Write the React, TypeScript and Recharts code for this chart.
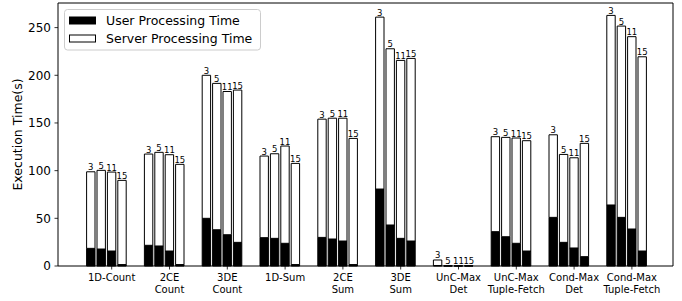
import { BarChart, Bar, XAxis, YAxis, Legend, LabelList } from 'recharts';

const categories = [
  '1D-Count', '2CE\nCount', '3DE\nCount', '1D-Sum', '2CE\nSum', '3DE\nSum',
  'UnC-Max\nDet', 'UnC-Max\nTuple-Fetch', 'Cond-Max\nDet', 'Cond-Max\nTuple-Fetch',
];
const configs = ['3', '5', '11', '15'];

// total execution time (user + server) per config
const total3 = [98.8, 117.4, 200, 115.3, 154, 261, 6.3, 135.6, 137.6, 262.8];
const total5 = [100.3, 119.2, 191.5, 117.7, 155, 227.8, 0.3, 134.9, 117, 251.6];
const total11 = [98.5, 116.7, 183, 125.8, 155, 215.6, 0.3, 134.2, 113.5, 240.5];
const total15 = [89.8, 106.6, 184.5, 107.6, 133.8, 217.7, 0.3, 131.4, 128.6, 219.4];

// user processing time per config
const user3 = [18.5, 21.7, 50, 29.7, 30, 80.7, 0.5, 36, 51, 64];
const user5 = [17.8, 21, 38, 29, 28.3, 43, 0.1, 30.7, 24.8, 51];
const user11 = [15.7, 15.7, 32.8, 23.8, 26.2, 29, 0.1, 23.8, 18.9, 38.8];
const user15 = [1.5, 1.5, 24.8, 1.5, 1.5, 26.2, 0.1, 15.7, 9.8, 15.7];

const yTicks = [0, 50, 100, 150, 200, 250];

const totals = [total3, total5, total11, total15];
const users = [user3, user5, user11, user15];

const data = categories.map((name, i) => {
  const row: any = { name };
  configs.forEach((c, j) => {
    row['u' + c] = users[j][i];
    row['s' + c] = +(totals[j][i] - users[j][i]).toFixed(2);
  });
  return row;
});

const FONT = '"DejaVu Sans", sans-serif';
const BAR = 8.4;
const GAP = 2;

function XTick(props: any) {
  const { x, y, payload } = props;
  const cx = x + (BAR + GAP) / 2;
  const lines = String(payload.value).split('\n');
  return (
    <g>
      <line x1={cx} x2={cx} y1={y} y2={y + 3.5} stroke="#000" strokeWidth={0.8} />
      <text x={cx} y={y + 15} textAnchor="middle" fontSize={10} fontFamily={FONT} fill="#000">
        {lines.map((l, i) => (
          <tspan key={i} x={cx} dy={i === 0 ? 0 : 11.6}>{l}</tspan>
        ))}
      </text>
    </g>
  );
}

function YLabel(props: any) {
  const { viewBox } = props;
  const cy = viewBox.y + viewBox.height / 2;
  return (
    <text x={17} y={cy} transform={`rotate(-90, 17, ${cy})`} textAnchor="middle"
      dominantBaseline="central" fontSize={12.5} fontFamily={FONT} fill="#000">
      Execution Time(s)
    </text>
  );
}

function topLabel(k: string) {
  return (props: any) => {
    const { x, y, width } = props;
    return (
      <text x={x + width / 2} y={y - 1.5} textAnchor="middle" fontSize={8.5} fontFamily={FONT} fill="#000">
        {k}
      </text>
    );
  };
}

function LegendBox() {
  return (
    <svg width={197} height={42} style={{ display: 'block' }}>
      <rect x={0.5} y={0.5} width={196} height={40.5} rx={3} fill="#fff" fillOpacity={0.8} stroke="#ccc" />
      <rect x={5.5} y={8} width={26} height={7} fill="#000" stroke="#000" />
      <text x={42} y={11.2} dominantBaseline="central" fontSize={12.5} fontFamily={FONT} fill="#000">User Processing Time</text>
      <rect x={5.5} y={26} width={26} height={7} fill="#fff" stroke="#000" />
      <text x={42} y={29.5} dominantBaseline="central" fontSize={12.5} fontFamily={FONT} fill="#000">Server Processing Time</text>
    </svg>
  );
}

export default function App() {
  return (
    <div style={{ position: 'absolute', left: 0, top: 0, background: '#fff' }}>
      <BarChart width={682} height={301} data={data} barSize={BAR} barGap={GAP}
        margin={{ top: 2, right: 8, bottom: 0, left: 0 }}>
        <XAxis dataKey="name" type="category" interval={0} height={35}
          padding={{ left: 19.6, right: 17.4 }}
          tick={<XTick />} tickLine={false} tickSize={0} tickMargin={0}
          axisLine={{ stroke: '#000', strokeWidth: 1 }} />
        <XAxis xAxisId="top" dataKey="name" orientation="top" height={1} tick={false} tickLine={false}
          axisLine={{ stroke: '#000', strokeWidth: 1 }} />
        <YAxis type="number" domain={[0, 275.8]} ticks={yTicks} width={58} interval={0}
          tick={{ fontSize: 12, fontFamily: FONT, fill: '#000' }} tickSize={3.5} tickMargin={3.5}
          tickLine={{ stroke: '#000', strokeWidth: 0.8 }} axisLine={{ stroke: '#000', strokeWidth: 1 }}
          label={<YLabel />} />
        <YAxis yAxisId="right" orientation="right" width={1} tick={false} tickLine={false}
          axisLine={{ stroke: '#000', strokeWidth: 1 }} />
        <Legend layout="vertical" align="center" verticalAlign="middle" content={<LegendBox />}
          wrapperStyle={{ left: 64, top: 9, width: 197, height: 42 }} />
        {configs.map((c) => (
          <Bar key={'u' + c} dataKey={'u' + c} stackId={c} fill="#000" stroke="#000" strokeWidth={1}
            isAnimationActive={false} legendType="none" />
        ))}
        {configs.map((c) => (
          <Bar key={'s' + c} dataKey={'s' + c} stackId={c} fill="#fff" stroke="#000" strokeWidth={1}
            isAnimationActive={false} legendType="none">
            <LabelList dataKey={'s' + c} content={topLabel(c)} />
          </Bar>
        ))}
      </BarChart>
    </div>
  );
}
